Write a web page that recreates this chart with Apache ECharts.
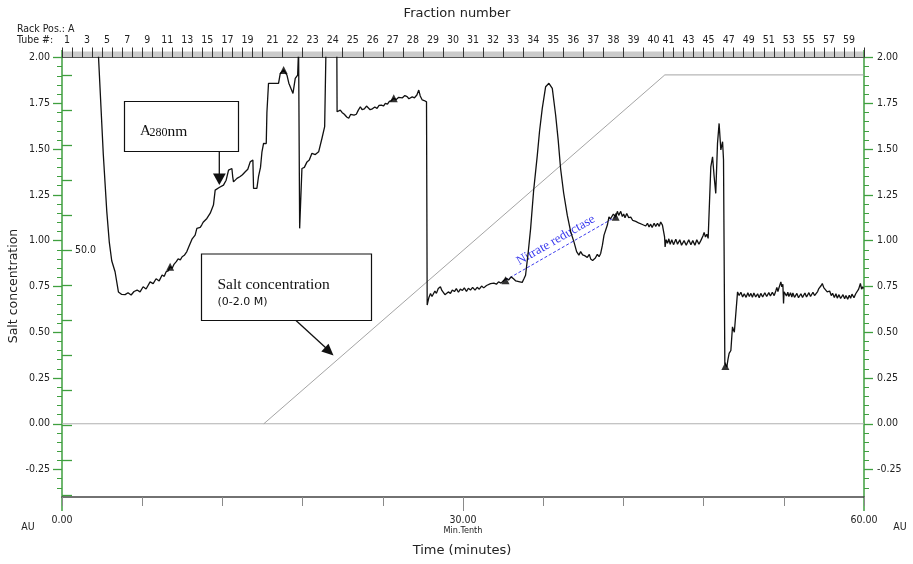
<!DOCTYPE html>
<html><head><meta charset="utf-8">
<script src="https://cdn.jsdelivr.net/npm/echarts@6/dist/echarts.min.js"></script>
<style>html,body{margin:0;padding:0;background:#fff}#c{width:913px;height:564px}</style>
</head><body><div id="c"></div>
<script>
// A280 trace: [time (min), value on salt scale]
const a280 = [
[2.70,2.05],[3.09,1.47],[3.35,1.16],[3.54,0.99],[3.72,0.89],[3.97,0.83],[4.22,0.72],[4.47,0.706],[4.72,0.705],[4.94,0.715],[5.17,0.703],[5.39,0.722],[5.62,0.73],[5.84,0.72],[6.07,0.748],[6.29,0.736],[6.59,0.775],[6.82,0.765],[7.04,0.792],[7.27,0.78],[7.49,0.812],[7.65,0.805],[7.79,0.83],[7.95,0.835],[8.09,0.857],[8.25,0.85],[8.39,0.872],[8.55,0.885],[8.69,0.90],[8.85,0.895],[8.99,0.912],[9.15,0.92],[9.34,0.94],[9.51,0.97],[9.62,0.965],[9.74,1.01],[9.86,1.005],[9.96,1.03],[10.09,1.067],[10.2,1.06],[10.34,1.072],[10.45,1.085],[10.56,1.10],[10.7,1.098],[10.84,1.121],[10.96,1.118],[11.09,1.15],[11.2,1.16],[11.33,1.194],[11.46,1.276],[11.6,1.28],[11.76,1.29],[11.9,1.29],[12.08,1.303],[12.28,1.33],[12.46,1.385],[12.6,1.39],[12.71,1.394],[12.77,1.35],[12.83,1.321],[12.95,1.325],[13.09,1.34],[13.2,1.335],[13.33,1.35],[13.5,1.36],[13.71,1.376],[13.9,1.39],[14.08,1.43],[14.28,1.44],[14.31,1.35],[14.33,1.285],[14.58,1.285],[14.70,1.349],[14.85,1.40],[14.96,1.485],[15.08,1.531],[15.28,1.53],[15.33,1.70],[15.45,1.859],[16.20,1.859],[16.33,1.913],[16.58,1.932],[16.83,1.904],[16.97,1.86],[17.08,1.85],[17.28,1.804],[17.45,1.886],[17.63,1.904],[17.70,2.05],[17.74,2.05],[17.78,1.067],[17.95,1.394],[18.13,1.40],[18.33,1.43],[18.50,1.44],[18.70,1.477],[18.95,1.47],[19.20,1.485],[19.45,1.559],[19.65,1.622],[19.75,2.05],[20.56,2.05],[20.58,1.704],[20.82,1.713],[20.95,1.70],[21.12,1.69],[21.3,1.675],[21.45,1.668],[21.6,1.69],[21.72,1.70],[21.85,1.685],[22.02,1.69],[22.15,1.71],[22.32,1.731],[22.45,1.715],[22.62,1.72],[22.78,1.735],[22.92,1.728],[23.05,1.715],[23.22,1.72],[23.4,1.73],[23.57,1.722],[23.72,1.738],[23.90,1.74],[24.05,1.735],[24.19,1.75],[24.35,1.745],[24.49,1.76],[24.65,1.765],[24.82,1.777],[25.0,1.77],[25.17,1.782],[25.3,1.772],[25.47,1.78],[25.65,1.792],[25.82,1.786],[25.95,1.775],[26.07,1.77],[26.2,1.785],[26.37,1.78],[26.55,1.795],[26.69,1.822],[26.8,1.79],[26.95,1.768],[27.1,1.765],[27.27,1.758],[27.32,0.648],
[27.45,0.69],[27.57,0.711],[27.68,0.695],[27.79,0.705],[27.9,0.725],[28.01,0.712],[28.15,0.738],[28.31,0.748],[28.42,0.728],[28.54,0.718],[28.65,0.705],[28.76,0.702],[28.9,0.72],[29.06,0.712],[29.2,0.73],[29.36,0.722],[29.5,0.738],[29.66,0.718],[29.8,0.735],[29.96,0.728],[30.1,0.742],[30.26,0.722],[30.4,0.74],[30.56,0.73],[30.72,0.745],[30.9,0.73],[31.06,0.745],[31.22,0.735],[31.39,0.752],[31.55,0.742],[31.76,0.755],[31.9,0.748],[32.06,0.765],[32.2,0.755],[32.31,0.768],[32.5,0.762],[32.66,0.775],[32.85,0.768],[33.06,0.784],[33.25,0.795],[33.41,0.785],[33.6,0.802],[33.78,0.792],[33.95,0.78],[34.08,0.79],[34.25,0.775],[34.43,0.772],[34.55,0.79],[34.68,0.811],[34.87,0.93],[35.06,1.067],[35.28,1.27],[35.56,1.467],[35.73,1.60],[35.93,1.722],[36.18,1.84],[36.43,1.859],[36.68,1.831],[36.93,1.686],[37.12,1.55],[37.30,1.394],[37.53,1.26],[37.80,1.139],[38.05,1.05],[38.30,0.993],[38.5,0.94],[38.67,0.921],[38.8,0.94],[38.95,0.922],[39.1,0.918],[39.30,0.908],[39.45,0.925],[39.55,0.90],[39.7,0.892],[39.80,0.89],[39.9,0.905],[40.05,0.925],[40.18,0.912],[40.30,0.93],[40.43,0.975],[40.55,1.03],[40.65,1.035],[40.80,1.085],[40.92,1.13],[41.02,1.118],[41.12,1.125],[41.25,1.145],[41.42,1.13],[41.55,1.16],[41.65,1.138],[41.80,1.16],[41.92,1.132],[42.02,1.145],[42.12,1.125],[42.25,1.148],[42.4,1.125],[42.55,1.128],[42.7,1.11],[42.8,1.12],[42.92,1.105],[43.05,1.112],[43.18,1.095],[43.30,1.105],[43.42,1.088],[43.55,1.098],[43.67,1.08],[43.8,1.095],[43.92,1.075],[44.04,1.09],[44.15,1.072],[44.3,1.095],[44.42,1.078],[44.55,1.095],[44.68,1.078],[44.79,1.102],[44.92,1.085],[45.04,1.09],[45.08,1.02],[45.12,0.966],[45.2,1.005],[45.30,0.985],[45.4,1.01],[45.5,0.98],[45.62,1.005],[45.75,0.978],[45.92,1.008],[46.05,0.98],[46.22,1.005],[46.35,0.975],[46.54,1.0],[46.7,0.975],[46.89,1.005],[47.05,0.978],[47.19,1.0],[47.35,0.975],[47.49,1.005],[47.65,0.98],[47.79,1.0],[47.95,1.025],[48.04,1.045],[48.14,1.02],[48.24,1.035],[48.34,1.012],[48.41,1.021],[48.54,1.403],[48.67,1.458],[48.79,1.349],[48.91,1.258],[49.04,1.531],[49.16,1.64],[49.29,1.495],[49.42,1.54],[49.49,1.44],[49.59,0.329],[49.74,0.31],[49.82,0.35],[49.91,0.384],[50.04,0.40],[50.16,0.529],[50.30,0.50],[50.43,0.493],[50.54,0.72],[50.66,0.7],[50.79,0.718],[50.92,0.692],[51.04,0.71],[51.18,0.69],[51.31,0.715],[51.42,0.695],[51.54,0.712],[51.65,0.69],[51.76,0.714],[51.9,0.692],[52.04,0.71],[52.16,0.688],[52.28,0.712],[52.42,0.692],[52.58,0.715],[52.72,0.695],[52.88,0.716],[53.0,0.698],[53.14,0.718],[53.28,0.7],[53.4,0.725],[53.48,0.745],[53.56,0.722],[53.63,0.74],[53.7,0.75],[53.78,0.775],[53.85,0.748],[53.93,0.762],[53.96,0.70],[53.98,0.657],[54.02,0.72],[54.08,0.728],[54.2,0.698],[54.3,0.718],[54.38,0.695],[54.5,0.715],[54.6,0.692],[54.68,0.714],[54.8,0.69],[54.98,0.712],[55.1,0.688],[55.28,0.71],[55.4,0.69],[55.58,0.714],[55.7,0.692],[55.88,0.716],[56.0,0.695],[56.18,0.718],[56.3,0.7],[56.53,0.722],[56.62,0.738],[56.70,0.73],[56.8,0.755],[56.88,0.766],[57.0,0.742],[57.13,0.738],[57.25,0.72],[57.43,0.725],[57.55,0.7],[57.65,0.712],[57.78,0.69],[57.9,0.71],[58.0,0.686],[58.13,0.705],[58.25,0.684],[58.43,0.705],[58.55,0.682],[58.65,0.7],[58.78,0.68],[58.9,0.702],[59.0,0.685],[59.10,0.708],[59.25,0.688],[59.38,0.71],[59.48,0.7],[59.6,0.735],[59.73,0.766],[59.82,0.735],[59.9,0.748],[59.96,0.738]
];
// Salt gradient
const gradientTime = [15.1, 45.1, 60];
const gradientValue = [0, 1.905, 1.905];
// Triangle markers on the trace
const markerTime = [8.09, 16.58, 24.82, 33.18, 41.42, 49.63];
const markerValue = [0.857, 1.932, 1.777, 0.784, 1.13, 0.315];
// Nitrate reductase segment
const nitrateStart = [33.18, 0.784];
const nitrateEnd = [41.42, 1.13];
// Axis ticks
const yMajor = [-0.25, 0, 0.25, 0.5, 0.75, 1.0, 1.25, 1.5, 1.75, 2.0];
const yMinor = [-0.35,-0.3,-0.2,-0.15,-0.1,-0.05,0.05,0.1,0.15,0.2,0.3,0.35,0.4,0.45,0.55,0.6,0.65,0.7,0.8,0.85,0.9,0.95,1.05,1.1,1.15,1.2,1.3,1.35,1.4,1.45,1.55,1.6,1.65,1.7,1.8,1.85,1.9,1.95];
const auTicks = [1.904,1.713,1.522,1.330,1.139,0.948,0.756,0.565,0.374,0.183,-0.009,-0.200,-0.391];
const auLabelValue = 0.948, auLabelText = '50.0';
const timeTicks = [0,6,12,18,24,30,36,42,48,54,60];
const timeLabels = [0,30,60];
const tubeBounds = [0,0.75,1.5,2.25,3,3.75,4.5,5.25,6,6.75,7.5,8.25,9,9.75,10.5,11.25,12,12.75,13.5,14.25,15,16.5,18,19.5,21,22.5,24,25.5,27,28.5,30,31.5,33,34.5,36,37.5,39,40.5,42,43.5,45,45.75,46.5,47.25,48,48.75,49.5,50.25,51,51.75,52.5,53.25,54,54.75,55.5,56.25,57,57.75,58.5,59.25,60];
const tubeLabelNums = [1,3,5,7,9,11,13,15,17,19,21,22,23,24,25,26,27,28,29,30,31,32,33,34,35,36,37,38,39,40,41,43,45,47,49,51,53,55,57,59];

const tubeCenters = tubeLabelNums.map(n => (tubeBounds[n-1] + tubeBounds[n]) / 2);
const centerToTube = {};
tubeCenters.forEach((c, i) => { centerToTube[c.toFixed(3)] = tubeLabelNums[i]; });

const GREEN = '#3f9f3f';
const NARROW = "'Liberation Sans Narrow', 'DejaVu Sans Condensed', sans-serif";
const SANS = "'DejaVu Sans', Verdana, sans-serif";
const SERIF = "'Liberation Serif', 'Times New Roman', serif";
const YMIN = -0.4, YMAX = 2.0;

const chart = echarts.init(document.getElementById('c'), null, {renderer: 'canvas'});

function yAx(pos, opts) {
  const base = {
    type: 'value', position: pos, min: YMIN, max: YMAX,
    splitLine: {show: false},
    axisLine: {show: false, onZero: false},
    axisTick: {show: false},
    axisLabel: {show: false}
  };
  const o = Object.assign(base, opts);
  o.axisLine = Object.assign({onZero: false}, o.axisLine);
  return o;
}

const option = {
  animation: false,
  backgroundColor: '#ffffff',
  grid: {left: 62, right: 49, top: 57.5, bottom: 67, outerBoundsMode: 'none', containLabel: false},
  xAxis: [
    {
      type: 'value', min: 0, max: 60, position: 'bottom',
      splitLine: {show: false},
      axisLine: {show: true, onZero: false, lineStyle: {color: '#444', width: 1.5}},
      axisTick: {show: true, customValues: timeTicks, length: 9, lineStyle: {color: '#8a8a8a', width: 1}},
      axisLabel: {
        show: true, customValues: timeLabels, margin: 18,
        fontFamily: NARROW, fontSize: 10.5, color: '#222', lineHeight: 11,
        formatter: v => v === 30 ? '30.00\n{s|Min.Tenth}' : v.toFixed(2),
        rich: {s: {fontFamily: NARROW, fontSize: 9, lineHeight: 9, color: '#222'}}
      }
    },
    {
      type: 'value', min: 0, max: 60, position: 'top',
      splitLine: {show: false},
      axisLine: {show: true, onZero: false, lineStyle: {color: '#555', width: 1}},
      axisTick: {show: true, customValues: tubeBounds, length: 10, lineStyle: {color: '#333', width: 1}},
      axisLabel: {
        show: true, customValues: tubeCenters, margin: 12,
        fontFamily: NARROW, fontSize: 10.5, color: '#222',
        formatter: v => String(centerToTube[v.toFixed(3)] || '')
      }
    },
    {
      type: 'value', min: 0, max: 60, position: 'bottom',
      splitLine: {show: false}, axisLine: {show: false, onZero: false}, axisLabel: {show: false},
      axisTick: {show: true, customValues: [30], length: 14, lineStyle: {color: '#8a8a8a', width: 1}}
    }
  ],
  yAxis: [
    yAx('left', {
      axisLine: {show: true, lineStyle: {color: GREEN, width: 1.5}},
      axisTick: {show: true, customValues: yMajor, length: 9, lineStyle: {color: GREEN, width: 1.3}},
      axisLabel: {show: true, customValues: yMajor, margin: 12, fontFamily: NARROW, fontSize: 10.5, color: '#222', formatter: v => v.toFixed(2)}
    }),
    yAx('left', {
      axisTick: {show: true, customValues: yMinor, length: 5, lineStyle: {color: GREEN, width: 1}}
    }),
    yAx('left', {
      axisTick: {show: true, inside: true, customValues: auTicks, length: 10, lineStyle: {color: GREEN, width: 1.3}},
      axisLabel: {show: true, inside: true, customValues: [auLabelValue], margin: 13, fontFamily: NARROW, fontSize: 10.5, color: '#222', formatter: () => auLabelText}
    }),
    yAx('right', {
      axisLine: {show: true, lineStyle: {color: GREEN, width: 1.5}},
      axisTick: {show: true, customValues: yMajor, length: 9, lineStyle: {color: GREEN, width: 1.3}},
      axisLabel: {show: true, customValues: yMajor, margin: 13, fontFamily: NARROW, fontSize: 10.5, color: '#222', formatter: v => v.toFixed(2)}
    }),
    yAx('right', {
      axisTick: {show: true, customValues: yMinor, length: 5, lineStyle: {color: GREEN, width: 1}}
    })
  ],
  series: [
    {
      type: 'line', name: 'zero', xAxisIndex: 0, yAxisIndex: 0, z: 1,
      data: [[0, 0], [60, 0]], symbol: 'none', silent: true,
      lineStyle: {color: '#b0b0b0', width: 1}
    },
    {
      type: 'line', name: 'Salt gradient', xAxisIndex: 0, yAxisIndex: 0, z: 2,
      data: gradientTime.map((t, i) => [t, gradientValue[i]]), symbol: 'none', silent: true,
      lineStyle: {color: '#9a9a9a', width: 0.9}
    },
    {
      type: 'line', name: 'A280', xAxisIndex: 0, yAxisIndex: 0, z: 5,
      data: a280, symbol: 'none', silent: true, clip: true,
      lineStyle: {color: '#111', width: 1.3},
      markLine: {
        silent: true, symbol: ['none', 'none'], animation: false,
        lineStyle: {color: '#3a3aee', type: [3, 2], width: 1},
        label: {
          show: true, position: 'insideMiddleTop', distance: 3,
          formatter: 'Nitrate reductase', fontFamily: SERIF, fontSize: 13, color: '#3a3aee'
        },
        data: [[{coord: nitrateStart}, {coord: nitrateEnd}]]
      }
    },
    {
      type: 'scatter', name: 'markers', xAxisIndex: 0, yAxisIndex: 0, z: 6,
      data: markerTime.map((t, i) => [t, markerValue[i]]),
      symbol: 'triangle', symbolSize: [8, 8], silent: true,
      itemStyle: {color: '#000'}
    }
  ],
  graphic: [
    // top grey band of the fraction axis
    {type: 'rect', z: -1, shape: {x: 62, y: 51.5, width: 802, height: 5.5}, style: {fill: '#cbcbcb'}},
    // green axis extensions
    {type: 'line', shape: {x1: 62, y1: 50, x2: 62, y2: 57.5}, style: {stroke: GREEN, lineWidth: 1.5}},
    {type: 'line', shape: {x1: 62, y1: 497, x2: 62, y2: 511}, style: {stroke: GREEN, lineWidth: 1.5}},
    {type: 'line', shape: {x1: 864, y1: 50, x2: 864, y2: 57.5}, style: {stroke: GREEN, lineWidth: 1.5}},
    {type: 'line', shape: {x1: 864, y1: 497, x2: 864, y2: 511}, style: {stroke: GREEN, lineWidth: 1.5}},
    // titles
    {type: 'text', x: 457, y: 14, style: {text: 'Fraction number', font: "13px " + SANS, fill: '#222', align: 'center', verticalAlign: 'middle'}},
    {type: 'text', x: 462, y: 551, style: {text: 'Time (minutes)', font: "13px " + SANS, fill: '#222', align: 'center', verticalAlign: 'middle'}},
    {type: 'text', x: 14, y: 286, rotation: Math.PI / 2, style: {text: 'Salt concentration', font: "12.5px " + SANS, fill: '#222', align: 'center', verticalAlign: 'middle'}},
    {type: 'text', x: 17, y: 29, style: {text: 'Rack Pos.: A', font: "10.5px " + NARROW, fill: '#222', align: 'left', verticalAlign: 'middle'}},
    {type: 'text', x: 17, y: 40, style: {text: 'Tube #:', font: "10.5px " + NARROW, fill: '#222', align: 'left', verticalAlign: 'middle'}},
    {type: 'text', x: 28, y: 527, style: {text: 'AU', font: "10.5px " + NARROW, fill: '#222', align: 'center', verticalAlign: 'middle'}},
    {type: 'text', x: 900, y: 527, style: {text: 'AU', font: "10.5px " + NARROW, fill: '#222', align: 'center', verticalAlign: 'middle'}},
    // A280nm box
    {type: 'rect', z: 10, shape: {x: 124.5, y: 101.5, width: 114, height: 50}, style: {fill: '#fff', stroke: '#111', lineWidth: 1.2}},
    {type: 'text', z: 11, x: 140, y: 124, style: {text: 'A', font: "15px " + SERIF, fill: '#111', align: 'left', verticalAlign: 'alphabetic'}},
    {type: 'text', z: 11, x: 149.5, y: 127, style: {text: '280', font: "12px " + SERIF, fill: '#111', align: 'left', verticalAlign: 'alphabetic'}},
    {type: 'text', z: 11, x: 167.5, y: 124, style: {text: 'nm', font: "15.5px " + SERIF, fill: '#111', align: 'left', verticalAlign: 'alphabetic'}},
    {type: 'line', z: 11, shape: {x1: 219.3, y1: 151.5, x2: 219.3, y2: 175}, style: {stroke: '#111', lineWidth: 1.3}},
    {type: 'polygon', z: 11, shape: {points: [[213, 173.5], [225.8, 173.5], [219.3, 185]]}, style: {fill: '#111'}},
    // Salt concentration box
    {type: 'rect', z: 10, shape: {x: 201.5, y: 254, width: 170, height: 66.5}, style: {fill: '#fff', stroke: '#111', lineWidth: 1.2}},
    {type: 'text', z: 11, x: 217.5, y: 277, style: {text: 'Salt concentration', font: "15.5px " + SERIF, fill: '#111', align: 'left', verticalAlign: 'alphabetic'}},
    {type: 'text', z: 11, x: 217.5, y: 297, style: {text: '(0-2.0 M)', font: "11px " + SANS, fill: '#111', align: 'left', verticalAlign: 'alphabetic'}},
    {type: 'line', z: 11, shape: {x1: 296, y1: 320.5, x2: 326, y2: 348}, style: {stroke: '#111', lineWidth: 1.3}},
    {type: 'polygon', z: 11, shape: {points: [[321.3, 351.6], [328.5, 343.7], [333.5, 355.5]]}, style: {fill: '#111'}}
  ]
};
chart.setOption(option);
</script></body></html>
